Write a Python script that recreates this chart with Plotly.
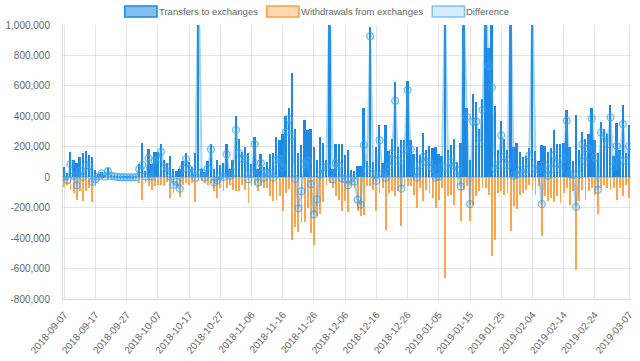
import plotly.graph_objects as go
import pandas as pd

# Daily values in thousands (bars above 1,000k are clipped in the original)
transfers_k = [
    70, 30, 167, 112, 94, 134, 160, 171, 145, 134, 46, 20, 35, 13, 61, 13, 8, 5, 3, 3,
    2, 2, 2, 3, 90, 228, 42, 184, 90, 167, 167, 215, 112, 94, 140, 53, 40, 57, 105, 156,
    101, 68, 160, 1400, 57, 35, 107, 221, 57, 116, 79, 94, 221, 57, 112, 403, 250, 167, 200, 156,
    85, 265, 57, 151, 68, 101, 151, 156, 261, 243, 287, 400, 458, 682, 314, 156, 211, 379, 309, 320,
    200, 112, 261, 228, 116, 1300, 57, 217, 221, 217, 145, 178, 50, 42, 77, 77, 458, 105, 985, 101,
    200, 346, 95, 340, 173, 250, 627, 200, 243, 243, 632, 243, 151, 200, 149, 292, 182, 204, 195, 200,
    151, 138, 1800, 182, 211, 252, 101, 228, 1200, 456, 112, 546, 491, 314, 513, 1250, 850, 1110, 467, 182,
    368, 250, 182, 1500, 200, 226, 167, 134, 138, 189, 1250, 171, 107, 211, 206, 167, 189, 309, 217, 217,
    226, 441, 200, 107, 412, 178, 298, 250, 281, 456, 243, 156, 364, 320, 287, 474, 140, 353, 178, 474,
    156, 340,
]
withdrawals_k = [
    65, 48, 81, 103, 147, 92, 158, 92, 70, 164, 59, 15, 10, 8, 20, 5, 3, 3, 3, 3,
    3, 3, 3, 3, 37, 147, 37, 59, 86, 59, 48, 48, 55, 30, 136, 103, 70, 132, 48, 37,
    48, 37, 164, 26, 26, 37, 48, 37, 92, 136, 70, 92, 70, 48, 81, 92, 92, 48, 81, 169,
    59, 48, 92, 59, 70, 70, 125, 158, 147, 125, 224, 103, 75, 410, 325, 360, 302, 292, 200, 366,
    445, 257, 244, 165, 50, 37, 70, 125, 147, 224, 158, 230, 59, 70, 224, 257, 246, 59, 59, 81,
    224, 103, 70, 344, 103, 92, 125, 92, 318, 59, 59, 59, 114, 202, 70, 158, 81, 103, 136, 202,
    147, 70, 662, 125, 114, 180, 59, 289, 81, 59, 289, 180, 125, 92, 70, 70, 120, 520, 410, 103,
    92, 114, 103, 355, 191, 208, 120, 103, 86, 48, 81, 114, 59, 388, 125, 158, 136, 164, 125, 169,
    103, 70, 180, 92, 607, 158, 81, 147, 92, 70, 114, 239, 70, 48, 70, 81, 70, 147, 70, 125,
    48, 136,
]

transfers = [v * 1000 for v in transfers_k]
withdrawals = [-v * 1000 for v in withdrawals_k]
difference = [t + w for t, w in zip(transfers, withdrawals)]
dates = pd.date_range("2018-09-07", periods=len(transfers), freq="D")

x_tick_labels = [
    "2018-09-07", "2018-09-17", "2018-09-27", "2018-10-07", "2018-10-17", "2018-10-27",
    "2018-11-06", "2018-11-16", "2018-11-26", "2018-12-06", "2018-12-16", "2018-12-26",
    "2019-01-05", "2019-01-15", "2019-01-25", "2019-02-04", "2019-02-14", "2019-02-24",
    "2019-03-07",
]
y_tick_values = [-800000, -600000, -400000, -200000, 0, 200000, 400000, 600000, 800000, 1000000]
y_tick_labels = ["-800,000", "-600,000", "-400,000", "-200,000", "0",
                 "200,000", "400,000", "600,000", "800,000", "1,000,000"]

legend_names = ["Transfers to exchanges", "Withdrawals from exchanges", "Difference"]

BLUE = "rgb(30,136,229)"
ORANGE = "rgb(255,159,64)"
LIGHT = "rgba(54,162,235,0.45)"
FONT = "Liberation Sans, Arial, sans-serif"
GRID = "rgba(0,0,0,0.1)"

day_ms = 86400000
fig = go.Figure()
fig.add_trace(go.Bar(x=dates, y=transfers, name=legend_names[0], width=0.6 * day_ms,
                     marker=dict(color=BLUE, line=dict(width=0)), hoverinfo="skip"))
fig.add_trace(go.Bar(x=dates, y=withdrawals, name=legend_names[1], width=0.6 * day_ms,
                     marker=dict(color="rgba(255,159,64,0.95)", line=dict(width=0)), hoverinfo="skip"))
fig.add_trace(go.Scatter(x=dates, y=difference, name=legend_names[2], mode="lines+markers",
                         line=dict(color=LIGHT, width=2),
                         marker=dict(size=7, color="rgba(54,162,235,0.2)",
                                     line=dict(color="rgba(54,162,235,0.65)", width=1.3)),
                         hoverinfo="skip"))

L, R, T, B = 55, 5, 25, 62
W, H = 640, 361
pw, ph = W - L - R, H - T - B

def px(x):
    return (x - L) / pw

def py(y):
    return (H - B - y) / ph

shapes = []
annotations = []
legend_boxes = [
    (118, 151, "rgba(30,136,229,0.55)", BLUE, 151),
    (263, 296, "rgba(255,159,64,0.4)", ORANGE, 296),
    (432, 465, "rgba(54,162,235,0.2)", "rgba(54,162,235,0.6)", 464),
]
for (x0, x1, fill, border, tx), name in zip(legend_boxes, legend_names):
    shapes.append(dict(type="rect", xref="paper", yref="paper",
                       x0=px(x0), x1=px(x1), y0=py(17), y1=py(6),
                       fillcolor=fill, line=dict(color=border, width=1.5)))
    annotations.append(dict(xref="paper", yref="paper", x=px(tx), y=py(11.5),
                            xanchor="left", yanchor="middle", showarrow=False,
                            text=name, font=dict(family=FONT, size=9.5, color="#666")))

fig.update_layout(
    width=W, height=H, margin=dict(l=L, r=R, t=T, b=B),
    paper_bgcolor="white", plot_bgcolor="white",
    barmode="overlay", showlegend=False, bargap=0,
    shapes=shapes, annotations=annotations,
    font=dict(family=FONT, size=10, color="#666"),
)
fig.update_xaxes(
    type="date",
    range=["2018-09-06 14:00", "2019-03-07 14:00"],
    tickvals=x_tick_labels, ticktext=x_tick_labels, tickangle=-50,
    showgrid=True, gridcolor=GRID, gridwidth=1,
    showline=True, linecolor="rgba(0,0,0,0.15)",
    ticks="outside", ticklen=5, tickcolor="rgba(0,0,0,0)",
    tickfont=dict(family=FONT, size=10, color="#666"),
)
fig.update_yaxes(
    range=[-800000, 1000000],
    tickvals=y_tick_values, ticktext=y_tick_labels,
    showgrid=True, gridcolor=GRID, gridwidth=1,
    zeroline=True, zerolinecolor="rgba(0,0,0,0.2)",
    showline=True, linecolor="rgba(0,0,0,0.15)",
    ticks="outside", ticklen=10, tickcolor="rgba(0,0,0,0)",
    tickfont=dict(family=FONT, size=10, color="#666"),
)

fig.write_html("out.html", config={"displayModeBar": False},
               post_script="document.body.style.margin='0';")
